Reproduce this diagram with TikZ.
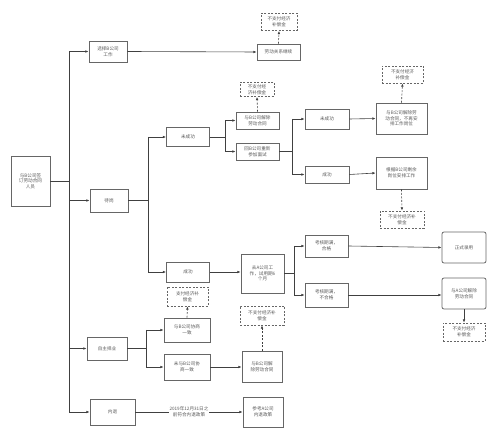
\documentclass[tikz,border=0pt]{standalone}
\usepackage{fontspec}
\setmainfont{Noto Sans CJK SC}
\usetikzlibrary{arrows.meta}
\begin{document}
\begin{tikzpicture}[x=1pt,y=-1pt,
  box/.style={draw=black!60,line width=0.8pt,fill=white,align=center,inner sep=0.5pt,
    font=\fontsize{4.6}{5.6}\selectfont,text=black!65},
  rbox/.style={box,rounded corners=2pt},
  dbox/.style={box,dashed,dash pattern=on 2pt off 1.5pt},
  conn/.style={draw=black!75,line width=0.6pt},
  arr/.style={conn,-{Latex[length=3.2pt,width=2.6pt]}},
  darr/.style={arr,dash pattern=on 2pt off 1.5pt}]
\useasboundingbox (0,0) rectangle (496,438);
% nodes
\node[box,minimum width=39pt,minimum height=50pt] (root) at (30.5,181) {与B公司签\\订劳动合同\\人员};
\node[box,minimum width=38pt,minimum height=21pt] (b1) at (108,51.5) {选择B公司\\工作};
\node[box,minimum width=43pt,minimum height=16pt] (b1r) at (278.5,52) {劳动关系继续};
\node[dbox,minimum width=36pt,minimum height=17pt] (d1) at (279,22) {不支付经济\\补偿金};
\node[box,minimum width=38pt,minimum height=23pt] (wait) at (109,200.5) {待岗};
\node[box,minimum width=43pt,minimum height=19pt] (ns1) at (188,137) {未成功};
\node[box,minimum width=43pt,minimum height=20pt] (s1) at (188,272) {成功};
\node[box,minimum width=43pt,minimum height=17pt] (jc1) at (257.5,120.5) {与B公司解除\\劳动合同};
\node[dbox,minimum width=34pt,minimum height=14pt] (d2) at (257,89.5) {不支付经\\济补偿金};
\node[box,minimum width=43pt,minimum height=17pt] (hm) at (257.5,151.5) {回B公司重新\\参加面试};
\node[box,minimum width=44pt,minimum height=20pt] (ns2) at (327,119) {未成功};
\node[box,minimum width=44pt,minimum height=17pt] (s2) at (327,174.5) {成功};
\node[box,minimum width=51pt,minimum height=31pt] (jc2) at (401.5,118.5) {与B公司解除劳\\动合同，不再安\\排工作岗位};
\node[dbox,minimum width=41pt,minimum height=17pt] (d3) at (402.5,74.5) {不支付经济\\补偿金};
\node[box,minimum width=51pt,minimum height=32pt] (ap) at (401.5,173) {根据B公司剩余\\岗位安排工作};
\node[dbox,minimum width=44pt,minimum height=17pt] (d4) at (402,219.5) {不支付经济补\\偿金};
\node[box,minimum width=43pt,minimum height=39pt] (ga) at (262.5,273.5) {去A公司工\\作，试用期6\\个月};
\node[box,minimum width=43pt,minimum height=22pt] (pass) at (326.5,246) {考核期满，\\合格};
\node[box,minimum width=43pt,minimum height=24pt] (fail) at (326.5,295) {考核期满，\\不合格};
\node[rbox,minimum width=44pt,minimum height=31pt] (hire) at (464,247.5) {正式录用};
\node[rbox,minimum width=44pt,minimum height=31pt] (jca) at (464,293.5) {与A公司解除\\劳动合同};
\node[dbox,minimum width=42pt,minimum height=18pt] (d5) at (464,332) {不支付经济\\补偿金};
\node[box,minimum width=40pt,minimum height=23pt] (self) at (107,348.5) {自主择业};
\node[box,minimum width=46pt,minimum height=24pt] (ag) at (187,330) {与B公司协商\\一致};
\node[dbox,minimum width=41pt,minimum height=19pt] (d6) at (187.5,296.5) {支付经济补\\偿金};
\node[box,minimum width=46pt,minimum height=26pt] (nag) at (187,367) {未与B公司协\\商一致};
\node[box,minimum width=40pt,minimum height=31pt] (jc3) at (262,366.5) {与B公司解\\除劳动合同};
\node[dbox,minimum width=44pt,minimum height=19pt] (d7) at (262,315.5) {不支付经济补\\偿金};
\node[box,minimum width=45pt,minimum height=26pt] (ret) at (112.5,412) {内退};
\node[box,minimum width=40pt,minimum height=30pt] (ref) at (263,412) {参考A公司\\内退政策};
% trunk
\coordinate (t) at (69,181);
\draw[conn] (root.east) -- (t);
\draw[conn] (69,52) -- (69,412);
\draw[arr] (69,51.5) -- (b1.west);
\draw[arr] (69,200.5) -- (wait.west);
\draw[arr] (69,348.5) -- (self.west);
\draw[arr] (69,412) -- (ret.west);
% top branch
\draw[arr] (b1.east) -- (b1r.west);
\draw[darr] (b1r.north) -- (d1.south);
% wait branch
\draw[conn] (wait.east) -- (148,200.5);
\draw[conn] (148,137) -- (148,272);
\draw[arr] (148,137) -- (ns1.west);
\draw[arr] (148,272) -- (s1.west);
\draw[conn] (ns1.east) -- (225,137);
\draw[conn] (225,120.5) -- (225,151.5);
\draw[arr] (225,120.5) -- (jc1.west);
\draw[arr] (225,151.5) -- (hm.west);
\draw[darr] (jc1.north) -- (d2.south);
\draw[conn] (hm.east) -- (292,151.5);
\draw[conn] (292,119) -- (292,174.5);
\draw[arr] (292,119) -- (ns2.west);
\draw[arr] (292,174.5) -- (s2.west);
\draw[arr] (ns2.east) -- (jc2.west);
\draw[darr] (jc2.north) -- (d3.south);
\draw[arr] (s2.east) -- (ap.west);
\draw[darr] (ap.south) -- (d4.north);
\draw[arr] (s1.east) -- (ga.west |- s1.east);
\draw[conn] (ga.east) -- (294,273.5);
\draw[conn] (294,246) -- (294,295);
\draw[arr] (294,246) -- (pass.west);
\draw[arr] (294,295) -- (fail.west);
\draw[arr] (pass.east) -- (hire.west);
\draw[arr] (fail.east) -- (jca.west |- fail.east);
\draw[arr] (jca.south) -- (d5.north);
% self branch
\draw[conn] (self.east) -- (146,348.5);
\draw[conn] (146,330) -- (146,367);
\draw[arr] (146,330) -- (ag.west);
\draw[arr] (146,367) -- (nag.west);
\draw[darr] (ag.north) -- (d6.south);
\draw[arr] (nag.east) -- (jc3.west |- nag.east);
\draw[darr] (jc3.north) -- (d7.south);
% retire
\draw[arr] (ret.east) -- node[fill=white,inner sep=1pt,align=center,font=\fontsize{4.6}{5.6}\selectfont,text=black!65] (lbl) {2019年12月31日之\\前符合内退政策} (ref.west);
\end{tikzpicture}
\end{document}
